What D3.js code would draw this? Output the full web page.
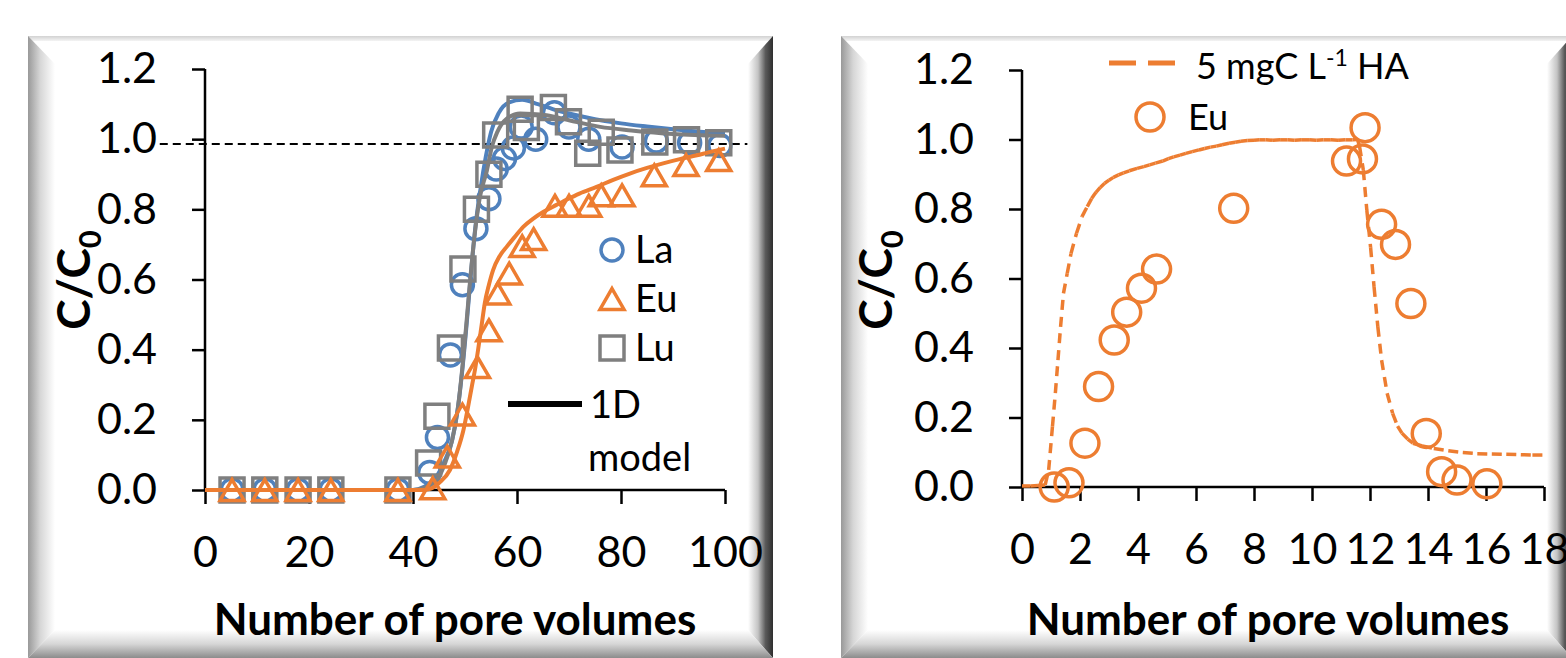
<!DOCTYPE html>
<html>
<head>
<meta charset="utf-8">
<script src="https://cdn.jsdelivr.net/npm/d3@7"></script>
<style>
  body { margin: 0; background: #fff; }
  svg text { font-family: Lato, "Open Sans", sans-serif; fill: #000; }
</style>
</head>
<body>
<div id="content"></div>
<script>
// ---- left panel: breakthrough of La, Eu, Lu (pore volumes, C/C0) ----
const laPoints = [[5.2,0],[11.5,0],[17.9,0],[24.2,0],[37.1,0],[43.2,0.05],[44.7,0.15],[47.2,0.385],[49.5,0.585],
  [52.1,0.745],[54.6,0.83],[56,0.915],[57.6,0.945],[59.3,0.975],[60.8,1.035],[63.6,1.0],[67.2,1.075],[70,1.035],
  [73.8,1.0],[80.2,0.978],[86.8,0.995],[93.2,0.99],[99,0.982]];
const euPoints = [[5.2,0],[11.5,0],[17.9,0],[24.2,0],[37.1,0],[43.8,0.005],[46.6,0.095],[49.5,0.215],[52.4,0.35],
  [54.6,0.455],[56.3,0.56],[58.5,0.617],[61,0.695],[63.2,0.715],[67.3,0.81],[70,0.81],[73.8,0.81],[76.2,0.84],
  [80.2,0.84],[86.4,0.897],[92.5,0.926],[98.8,0.94]];
const luPoints = [[5.2,0],[11.5,0],[17.9,0],[24.2,0],[37.1,0],[43,0.077],[44.6,0.21],[47.2,0.405],[49.6,0.63],
  [52.2,0.8],[54.6,0.9],[55.9,1.012],[60.6,1.085],[61.8,1.033],[67,1.09],[69.9,1.05],[73.6,0.96],[76.2,1.02],
  [79.8,0.969],[86.5,0.992],[92.6,0.998],[98.8,0.99]];

const laModel = [[0,0],[40,0],[44,0.03],[46,0.08],[47.5,0.14],[48.5,0.22],[49.4,0.33],[50.3,0.47],[51.1,0.61],
  [52,0.75],[53,0.86],[54,0.95],[55,1.02],[56.5,1.075],[58.5,1.105],[61,1.112],[64,1.1],[67,1.085],[70,1.073],
  [75,1.057],[80,1.045],[85,1.036],[90,1.028],[95,1.021],[100,1.016]];
const luModel = [[0,0],[40,0],[44,0.02],[46,0.07],[47.5,0.14],[48.6,0.23],[49.5,0.35],[50.3,0.48],[51,0.6],
  [51.8,0.72],[52.8,0.83],[54.2,0.91],[55.2,0.98],[56.2,1.02],[58,1.058],[60.6,1.073],[63,1.072],[65.7,1.068],
  [70,1.054],[76,1.035],[82,1.025],[90,1.015],[100,1.01]];
const euModel = [[0,0],[42,0],[43.3,0.003],[45,0.02],[47.1,0.057],[48.5,0.11],[49.7,0.171],[50.5,0.23],
  [51.3,0.294],[52,0.35],[52.6,0.408],[53.2,0.47],[53.8,0.532],[54.6,0.585],[55.4,0.627],[56.6,0.665],[58,0.693],
  [59.5,0.72],[61.2,0.75],[63,0.772],[65.1,0.793],[67.5,0.812],[69.6,0.828],[72,0.845],[75.3,0.864],[78.5,0.884],
  [81.7,0.902],[85,0.918],[88.1,0.931],[91.3,0.943],[94.6,0.954],[97,0.963],[100,0.973]];
const refLine = [[-8.7,0.986],[104.3,0.986]];

const leftXTicks = [0,20,40,60,80,100];
const yTicks = [0,0.2,0.4,0.6,0.8,1.0,1.2];
const leftLegend = ["La","Eu","Lu"];

// ---- right panel: Eu with 5 mgC/L humic acid ----
const euHaPoints = [[1.11,0.0],[1.62,0.012],[2.17,0.126],[2.64,0.289],[3.18,0.423],[3.61,0.503],[4.12,0.572],
  [4.64,0.627],[7.3,0.802],[11.19,0.938],[11.74,0.944],[11.83,1.034],[12.4,0.756],[12.88,0.698],[13.41,0.528],
  [13.94,0.154],[14.47,0.044],[15.0,0.02],[16.03,0.009]];
const haModel = [[0,0.003],[0.3,0.003],[0.55,0.004],[0.8,0.006],[0.92,0.049],[1.05,0.174],[1.15,0.27],[1.24,0.365],
  [1.33,0.461],[1.43,0.557],[1.56,0.615],[1.69,0.672],[1.88,0.73],[2.07,0.778],[2.25,0.807],[2.4,0.83],[2.55,0.848],
  [2.7,0.862],[2.85,0.874],[3.0,0.883],[3.15,0.891],[3.33,0.898],[3.5,0.904],[3.7,0.91],[3.97,0.917],[4.2,0.922],
  [4.4,0.927],[4.6,0.932],[4.85,0.938],[5.05,0.945],[5.23,0.95],[5.45,0.955],[5.65,0.96],[5.87,0.965],[6.1,0.97],
  [6.3,0.974],[6.5,0.978],[6.7,0.981],[6.9,0.985],[7.14,0.989],[7.35,0.992],[7.55,0.995],[7.77,0.997],[8.0,0.998],
  [8.2,0.999],[8.4,0.999],[8.65,0.998],[8.9,0.999],[9.15,0.999],[9.4,0.998],[9.65,0.999],[9.9,0.999],[10.15,0.998],
  [10.4,0.999],[10.65,0.999],[10.9,0.998],[11.15,0.999],[11.4,0.999],[11.57,1.0],[11.64,0.98],[11.77,0.912],
  [11.89,0.797],[12.02,0.69],[12.14,0.576],[12.27,0.461],[12.4,0.365],[12.59,0.27],[12.78,0.212],[12.95,0.175],
  [13.1,0.155],[13.3,0.138],[13.48,0.126],[13.8,0.118],[14.2,0.111],[14.7,0.104],[15.2,0.099],[15.7,0.096],
  [16.2,0.095],[16.7,0.094],[17.2,0.093],[17.6,0.092],[18.03,0.092]];
const rightXTicks = [0,2,4,6,8,10,12,14,16,18];

const BLUE = "#4f81bd", ORANGE = "#ed7d31", GRAY = "#7f7f7f";

const svg = d3.select("#content").append("svg")
  .attr("width", 1566).attr("height", 658);

// bevel frame gradients
const defs = svg.append("defs");
function grad(id, x2, y2, stops) {
  const g = defs.append("linearGradient").attr("id", id)
    .attr("x1", 0).attr("y1", 0).attr("x2", x2).attr("y2", y2);
  stops.forEach(s => g.append("stop").attr("offset", s[0]).attr("stop-color", s[1]));
}
grad("gLeft", 1, 0, [[0,"#999999"],[0.45,"#d6d6d6"],[1,"#ffffff"]]);
grad("gRight", 1, 0, [[0,"#ffffff"],[0.4,"#c4c4c4"],[0.7,"#5a5a5a"],[1,"#2e2e2e"]]);
grad("gBottom", 0, 1, [[0,"#ffffff"],[0.5,"#d6d6d6"],[1,"#8c8c8c"]]);
grad("gTop", 0, 1, [[0,"#d2d2d2"],[1,"#f4f4f4"]]);

function frame(x0, y0, x1, y1) {
  const bl = 27, br = 25, bt = 28, bb = 28;
  const f = svg.append("g");
  f.append("rect").attr("x", x0).attr("y", y0).attr("width", x1 - x0).attr("height", y1 - y0).attr("fill", "#fff");
  f.append("rect").attr("x", x0).attr("y", y0).attr("width", x1 - x0).attr("height", 5).attr("fill", "url(#gTop)");
  const poly = pts => pts.map(p => p.join(",")).join(" ");
  f.append("polygon").attr("fill", "url(#gLeft)")
    .attr("points", poly([[x0,y0],[x0+bl,y0+bt],[x0+bl,y1-bb],[x0,y1]]));
  f.append("polygon").attr("fill", "url(#gRight)")
    .attr("points", poly([[x1,y0],[x1-br,y0+bt],[x1-br,y1-bb],[x1,y1]]));
  f.append("polygon").attr("fill", "url(#gBottom)")
    .attr("points", poly([[x0,y1],[x0+bl,y1-bb],[x1-br,y1-bb],[x1,y1]]));
}
frame(28, 36, 773, 658);
frame(841, 36, 1572, 658);

function drawAxes(g, x, y, xTicks, yLabelX, titleX) {
  const ax = g.append("g").attr("transform", "translate(0," + y(0) + ")")
    .call(d3.axisBottom(x).tickValues(xTicks).tickSize(14).tickSizeOuter(0).tickPadding(32).tickFormat(d3.format("d")));
  const ay = g.append("g").attr("transform", "translate(" + x(0) + ",0)")
    .call(d3.axisLeft(y).tickValues(yTicks).tickSize(13).tickSizeOuter(0).tickPadding(35).tickFormat(d3.format(".1f")));
  [ax, ay].forEach(a => {
    a.attr("font-family", null);
    a.select(".domain").attr("stroke", "#000").attr("stroke-width", 2.5);
    a.selectAll(".tick line").attr("stroke", "#000").attr("stroke-width", 2.5);
    a.selectAll(".tick text").attr("fill", "#000").style("font-size", "43px");
  });
  ax.select(".domain").attr("d", "M" + x.range()[0] + ",0H" + x.range()[1]);
  ay.select(".domain").attr("d", "M0," + y.range()[0] + "V" + y.range()[1]);

  g.append("text").attr("x", titleX).attr("y", 635).attr("text-anchor", "middle")
    .style("font-size", "44px").style("font-weight", "bold").text("Number of pore volumes");
  const t = g.append("text").attr("transform", "translate(" + yLabelX + ",280) rotate(-90)")
    .attr("text-anchor", "middle").style("font-size", "46px").style("font-weight", "bold");
  t.append("tspan").text("C/C");
  t.append("tspan").attr("dy", 11).style("font-size", "31px").text("0");
}

// ================= left panel =================
const xL = d3.scaleLinear().domain([0, 100]).range([205, 725]);
const yL = d3.scaleLinear().domain([0, 1.2]).range([490, 69]);
const gL = svg.append("g");
drawAxes(gL, xL, yL, leftXTicks, 90, 455);

const lineL = d3.line().x(d => xL(d[0])).y(d => yL(d[1])).curve(d3.curveMonotoneX);

gL.append("path").datum(refLine).attr("d", d3.line().x(d => xL(d[0])).y(d => yL(d[1])))
  .attr("fill", "none").attr("stroke", "#000").attr("stroke-width", 2).attr("stroke-dasharray", "8,5");

const triSize = 250, triH = Math.sqrt(triSize * 4 / Math.sqrt(3)) * Math.sqrt(3) / 2;
const symTri = d3.symbol(d3.symbolTriangle, triSize)();
const symSq = d3.symbol(d3.symbolSquare, 576)();

function markers(g, data, x, y, kind, color) {
  const sel = g.append("g").selectAll("path").data(data).join("path")
    .attr("fill", "none").attr("stroke", color).attr("stroke-width", 3.5);
  if (kind === "circle") {
    sel.attr("d", d3.symbol(d3.symbolCircle, Math.PI * 11 * 11)())
      .attr("transform", d => "translate(" + x(d[0]) + "," + y(d[1]) + ")");
  } else if (kind === "square") {
    sel.attr("d", symSq).attr("transform", d => "translate(" + x(d[0]) + "," + y(d[1]) + ")");
  } else {
    sel.attr("d", symTri).attr("stroke-linejoin", "miter")
      .attr("transform", d => "translate(" + x(d[0]) + "," + (y(d[1]) + triH / 6) + ")");
  }
}

gL.append("path").datum(laModel).attr("d", lineL).attr("fill", "none").attr("stroke", BLUE).attr("stroke-width", 4);
markers(gL, laPoints, xL, yL, "circle", BLUE);
gL.append("path").datum(luModel).attr("d", lineL).attr("fill", "none").attr("stroke", GRAY).attr("stroke-width", 4);
markers(gL, luPoints, xL, yL, "square", GRAY);
gL.append("path").datum(euModel).attr("d", lineL).attr("fill", "none").attr("stroke", ORANGE).attr("stroke-width", 4);
markers(gL, euPoints, xL, yL, "triangle", ORANGE);

// left legend
const legL = gL.append("g");
const legKinds = ["circle", "triangle", "square"], legColors = [BLUE, ORANGE, GRAY];
leftLegend.forEach((name, i) => {
  const cy = 250 + i * 49;
  markers(legL, [[0, 0]], v => 612, v => cy, legKinds[i], legColors[i]);
  legL.append("text").attr("x", 635).attr("y", cy + 13).style("font-size", "38px").text(name);
});
legL.append("line").attr("x1", 508).attr("x2", 582).attr("y1", 404).attr("y2", 404)
  .attr("stroke", "#000").attr("stroke-width", 6);
legL.append("text").attr("x", 590).attr("y", 418).style("font-size", "38px").text("1D");
legL.append("text").attr("x", 588).attr("y", 471).style("font-size", "38px").text("model");

// ================= right panel =================
const xR = d3.scaleLinear().domain([0, 18]).range([1022, 1544]);
const yR = d3.scaleLinear().domain([0, 1.2]).range([487, 70]);
const gR = svg.append("g");
drawAxes(gR, xR, yR, rightXTicks, 892, 1268);

// dashed model line, dash pattern restarting on every segment
const segLine = d3.line().x(d => xR(d[0])).y(d => yR(d[1]));
gR.append("g").selectAll("path").data(d3.pairs(haModel)).join("path")
  .attr("d", segLine).attr("fill", "none").attr("stroke", ORANGE).attr("stroke-width", 3.5)
  .attr("stroke-dasharray", "10,7");

gR.append("g").selectAll("circle").data(euHaPoints).join("circle")
  .attr("cx", d => xR(d[0])).attr("cy", d => yR(d[1])).attr("r", 14)
  .attr("fill", "none").attr("stroke", ORANGE).attr("stroke-width", 3.5);

// right legend
const legR = gR.append("g");
legR.append("line").attr("x1", 1109).attr("x2", 1176).attr("y1", 63).attr("y2", 63)
  .attr("stroke", ORANGE).attr("stroke-width", 5).attr("stroke-dasharray", "27,12");
const lt = legR.append("text").attr("x", 1196).attr("y", 79).style("font-size", "36px");
lt.append("tspan").text("5 mgC L");
lt.append("tspan").attr("dy", -13).style("font-size", "23px").text("-1");
lt.append("tspan").attr("dy", 13).text(" HA");
legR.append("circle").attr("cx", 1150).attr("cy", 117).attr("r", 14)
  .attr("fill", "none").attr("stroke", ORANGE).attr("stroke-width", 3.5);
legR.append("text").attr("x", 1188).attr("y", 130).style("font-size", "36px").text("Eu");
</script>
</body>
</html>
